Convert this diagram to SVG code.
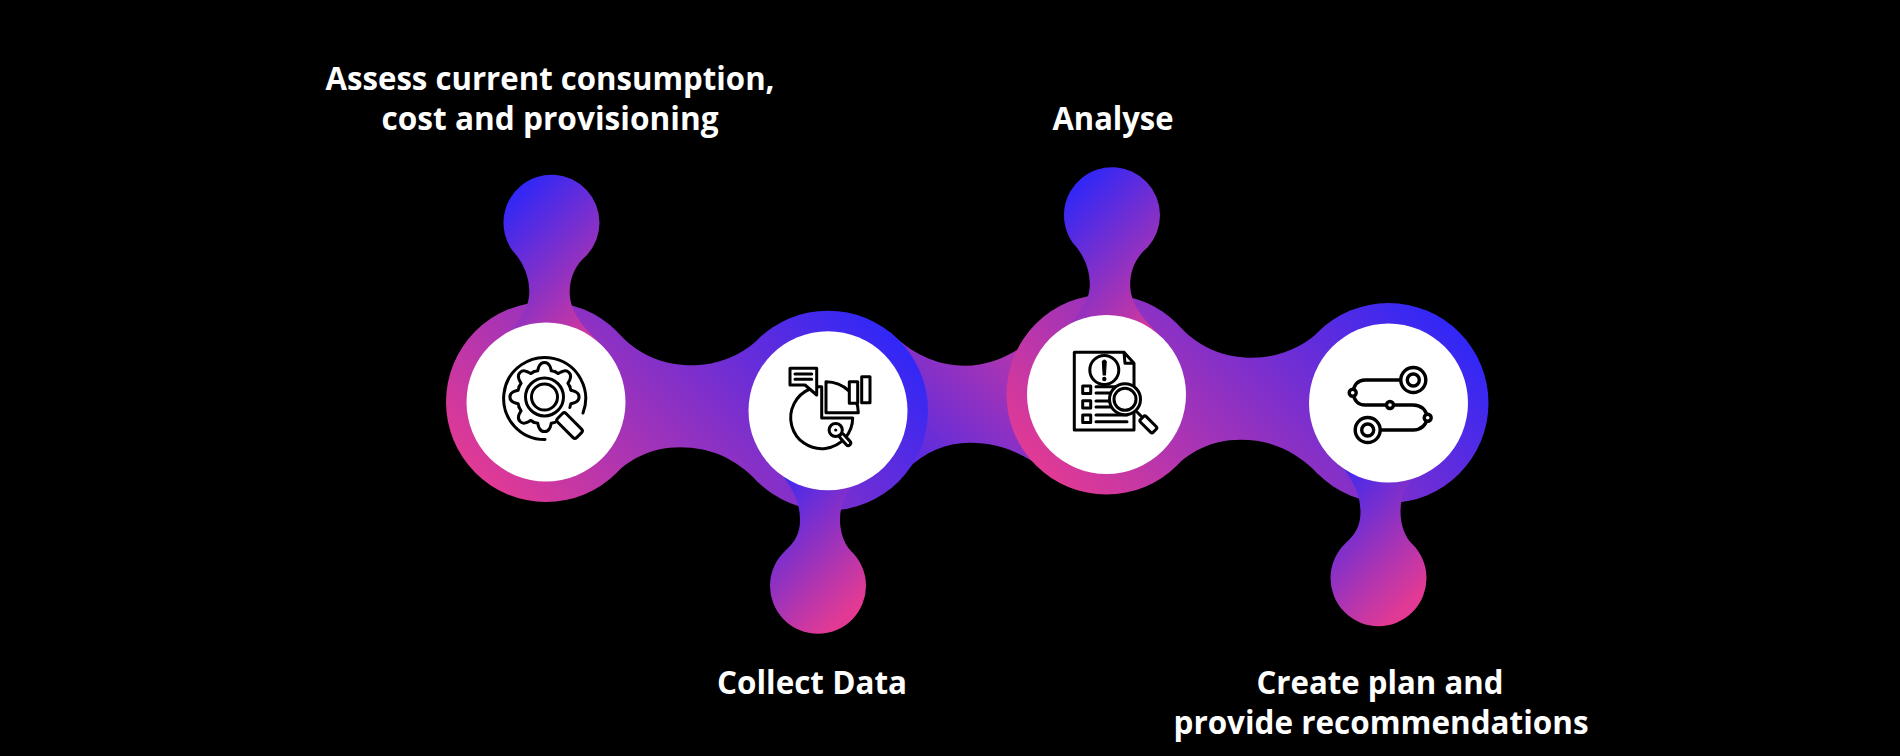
<svg xmlns="http://www.w3.org/2000/svg" xmlns:xlink="http://www.w3.org/1999/xlink" width="1900" height="756" viewBox="0 0 1900 756">
<style>
.lbl{font-family:"Open Sans","Noto Sans","Liberation Sans",sans-serif;font-weight:700;font-size:32px;fill:#fff;text-anchor:middle}
.ic{fill:none;stroke:#000;stroke-width:3;stroke-linecap:round;stroke-linejoin:round}
.icw{fill:#fff;stroke:#000;stroke-width:3;stroke-linecap:round;stroke-linejoin:round}
.disc{fill:#fff}
.a{fill:url(#gA)}.b{fill:url(#gB)}.t{fill:url(#gT)}.u{fill:url(#gU)}
</style>
<defs>
<linearGradient id="gA" gradientUnits="userSpaceOnUse" x1="475" y1="475" x2="757.5" y2="192.5"><stop offset="0" stop-color="#E23A94"/><stop offset="1" stop-color="#2F27F8"/></linearGradient>
<linearGradient id="gB" gradientUnits="userSpaceOnUse" x1="900" y1="550" x2="1115" y2="335"><stop offset="0" stop-color="#2F27F8"/><stop offset="1" stop-color="#E23A94"/></linearGradient>
<linearGradient id="gT" gradientUnits="userSpaceOnUse" x1="515" y1="190" x2="635" y2="310"><stop offset="0" stop-color="#2F27F8"/><stop offset="1" stop-color="#E23A94"/></linearGradient>
<linearGradient id="gU" gradientUnits="userSpaceOnUse" x1="773" y1="467" x2="883" y2="577"><stop offset="0" stop-color="#2F27F8"/><stop offset="1" stop-color="#E23A94"/></linearGradient>
<path id="bar" d="M620,335C640,356 665,365.3 691.7,365.3C718,365.3 743,355 763,335L758,482C735,458 710,447.3 680,447.3C650,447.3 628,460 610,478.5Z"/>
<path id="blobT" d="M512,250A48,48 0 1 1 587,255C575,265 569.7,278 569.7,292C569.7,308 578,322 598,342L500,342C520,322 529.3,308 529.3,292C529.3,276 523,262 512,250Z"/>
<path id="blobB" d="M785,551A48,48 0 1 0 851,551C845,545 840,533 840,520C840,505 845,492 858,478L778,470C795,490 800,505 800,520C800,533 795,542 785,551Z"/>
<path id="tooth" d="M-10.5,-25.35L-6.8,-26.3C-6,-29 -6,-30 -5,-31.5A5.6,5.6 0 0 1 5,-31.5C6,-30 6,-29 6.8,-26.3L10.5,-25.35"/>
</defs>
<rect width="1900" height="756" fill="#000"/>
<g id="connectors">
<path id="link-2-3" class="b" d="M890,332C910,352 935,365.7 965,365.7C985,365.7 1002,359 1017,350L1035,463C1015,450 995,442.7 970,442.7C945,442.7 925,452 906,470Z"/>
<use id="link-1-2" xlink:href="#bar" class="a"/>
<use id="link-3-4" xlink:href="#bar" class="a" transform="translate(560.5,-7.5)"/>
</g>
<g id="node-1">
<circle class="a" cx="546" cy="402" r="100"/>
<use xlink:href="#blobT" class="t"/>
<circle class="disc" cx="546" cy="402" r="79.5"/>
<g id="icon-1">
<path class="ic" d="M545,439.5A41,41 0 1 1 583,413"/>
<g class="ic" transform="translate(544.5,397)">
<use xlink:href="#tooth"/><use xlink:href="#tooth" transform="rotate(45)"/><use xlink:href="#tooth" transform="rotate(90)"/><use xlink:href="#tooth" transform="rotate(180)"/><use xlink:href="#tooth" transform="rotate(225)"/><use xlink:href="#tooth" transform="rotate(270)"/><use xlink:href="#tooth" transform="rotate(315)"/>
</g>
<circle class="ic" cx="544.5" cy="397" r="19"/>
<circle class="ic" cx="544.5" cy="397" r="13"/>
<rect class="icw" x="-6" y="0" width="12" height="27" rx="2.5" transform="translate(560,416) rotate(-45)"/>
</g>
<text class="lbl" x="550" y="90" textLength="449" lengthAdjust="spacingAndGlyphs">Assess current consumption,</text>
<text class="lbl" x="550" y="130" textLength="337" lengthAdjust="spacingAndGlyphs">cost and provisioning</text>
</g>
<g id="node-2">
<circle class="a" cx="828" cy="410.7" r="100"/>
<use xlink:href="#blobB" class="u"/>
<circle class="disc" cx="828" cy="410.7" r="79.5"/>
<g id="icon-2">
<path class="ic" d="M810,389A31,31 0 1 0 852.7,418L821.7,418L821.7,386.7L816.7,386.7"/>
<path class="ic" d="M826,381.7L826,412.7L858.3,412.7A32.5,31 0 0 0 826,381.7Z"/>
<rect class="icw" x="849.3" y="381.7" width="8.4" height="21.6"/>
<rect class="icw" x="861.7" y="376.7" width="8.3" height="26"/>
<path class="icw" d="M790,368.3H816.7V395L805,385H790Z"/>
<path class="ic" d="M795,374H811.7M795,379.3H811.7"/>
<rect class="icw" x="-2.5" y="0" width="5" height="14" rx="2.5" transform="translate(840.5,434.5) rotate(-42)"/>
<circle class="icw" cx="835.7" cy="430" r="6.6"/>
<circle cx="835.7" cy="430" r="1.6" fill="#000"/>
</g>
<text class="lbl" x="812" y="694" textLength="190" lengthAdjust="spacingAndGlyphs">Collect Data</text>
</g>
<g id="node-3">
<g transform="translate(560.5,-7.5)"><circle class="a" cx="546" cy="402" r="100"/><use xlink:href="#blobT" class="t"/></g>
<circle class="disc" cx="1106.5" cy="394.5" r="79.5"/>
<g id="icon-3">
<path class="ic" d="M1124,352.3H1074.3V430H1134V363.3ZM1124,352.3L1125,363.3H1134"/>
<circle class="ic" cx="1104.3" cy="370" r="14.5"/>
<path d="M1102.4,361.5Q1104.3,358.5 1106.2,361.5L1105.4,375H1103.2Z" fill="#000" stroke="#000" stroke-width="1.2"/>
<circle cx="1104.3" cy="379" r="2.2" fill="#000"/>
<rect class="ic" x="1082.7" y="386" width="8" height="7.4"/>
<rect class="ic" x="1082.7" y="400.7" width="8" height="7.4"/>
<rect class="ic" x="1082.7" y="415" width="8" height="7.4"/>
<path class="ic" d="M1096,386.7H1125M1096,393H1125M1096,401H1115M1096,407H1115M1096,415H1127M1096,421.7H1127"/>
<path class="ic" d="M1136,411L1141,416"/>
<rect class="icw" x="-4" y="0" width="8" height="18" rx="2" transform="translate(1142,418) rotate(-45)"/>
<circle class="icw" cx="1125" cy="399.3" r="15.5"/>
<circle class="icw" cx="1125" cy="399.3" r="11"/>
</g>
<text class="lbl" x="1113" y="130" textLength="121" lengthAdjust="spacingAndGlyphs">Analyse</text>
</g>
<g id="node-4">
<g transform="translate(560.5,-7.7)"><circle class="a" cx="828" cy="410.7" r="100"/><use xlink:href="#blobB" class="u"/></g>
<circle class="disc" cx="1388.5" cy="403" r="79.5"/>
<g id="icon-4">
<path class="ic" style="stroke-width:3.4" d="M1400,380H1365C1358,380 1354,385 1352.7,392.7C1354,400 1358,405 1365,405H1413C1421,405 1426,410 1427.7,417.7C1426,425 1421,430 1413,430H1381.7"/>
<circle class="icw" style="stroke-width:3.4" cx="1413.3" cy="380" r="12.5"/>
<circle class="ic" style="stroke-width:3.4" cx="1413.3" cy="380" r="6"/>
<circle class="icw" style="stroke-width:3.4" cx="1367.7" cy="430" r="12.5"/>
<circle class="ic" style="stroke-width:3.4" cx="1367.7" cy="430" r="6"/>
<circle class="icw" style="stroke-width:3.4" cx="1352.7" cy="392.7" r="3.5"/>
<circle class="icw" style="stroke-width:3.4" cx="1390" cy="405" r="3.5"/>
<circle class="icw" style="stroke-width:3.4" cx="1427.7" cy="417.7" r="3.5"/>
</g>
<text class="lbl" x="1380" y="694" textLength="247" lengthAdjust="spacingAndGlyphs">Create plan and</text>
<text class="lbl" x="1381" y="734" textLength="415" lengthAdjust="spacingAndGlyphs">provide recommendations</text>
</g>
</svg>
